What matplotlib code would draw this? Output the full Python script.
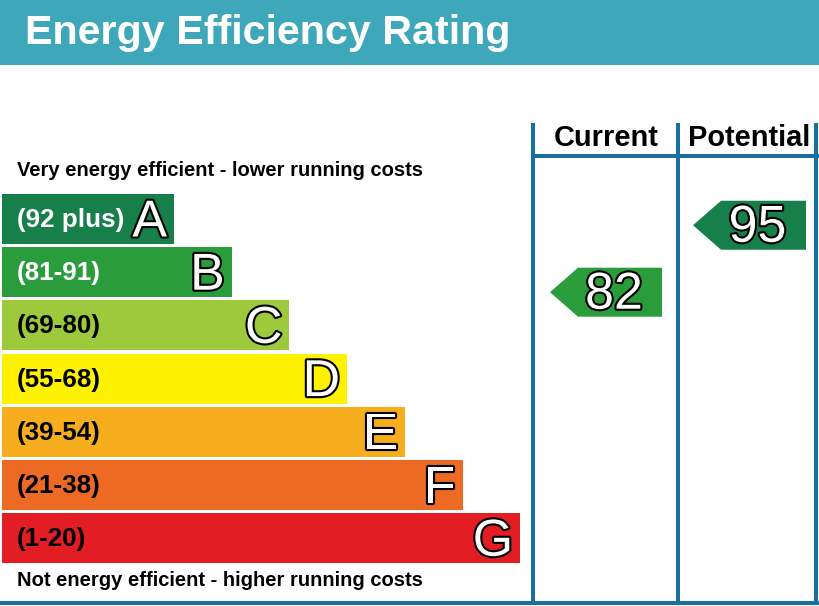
import matplotlib
matplotlib.use("Agg")
import matplotlib.pyplot as plt
from matplotlib.patches import Rectangle, Polygon
import matplotlib.patheffects as pe

# ---- data ----
title = "Energy Efficiency Rating"
letters = ["A", "B", "C", "D", "E", "F", "G"]
ranges = ["(92 plus)", "(81-91)", "(69-80)", "(55-68)", "(39-54)", "(21-38)", "(1-20)"]
band_low = [92, 81, 69, 55, 39, 21, 1]
band_high = [100, 91, 80, 68, 54, 38, 20]
band_colors = ["#17804a", "#2b9c3c", "#9cca3c", "#fff200", "#f6ae1f", "#ec6a24", "#e31d24"]
range_text_colors = ["white", "white", "black", "black", "black", "black", "black"]
top_note = "Very energy efficient - lower running costs"
bottom_note = "Not energy efficient - higher running costs"
columns = ["Current", "Potential"]
current_value = 82
potential_value = 95

header_color = "#3fa7ba"
line_color = "#17709f"

FAM = ["Liberation Sans", "DejaVu Sans"]

W, H = 819, 606
fig = plt.figure(figsize=(W / 100, H / 100), dpi=100)
ax = fig.add_axes([0, 0, 1, 1])
ax.set_xlim(0, W)
ax.set_ylim(H, 0)
ax.axis("off")


def px(p):
    return p * 72 / 100


# header
ax.add_patch(Rectangle((0, 0), W, 65, color=header_color, lw=0))
ax.text(25, 33, title, color="white", fontsize=px(41.3), fontweight="bold",
        family=FAM, va="center", ha="left")

# bands
top0, step, bh = 194, 53.2, 50
x0 = 2
outline = [pe.withStroke(linewidth=3, foreground="black")]
for i, (L, r) in enumerate(zip(letters, ranges)):
    y = top0 + i * step
    right = 174 + i * 57.7
    ax.add_patch(Rectangle((x0, y), right - x0, bh, color=band_colors[i], lw=0))
    ax.text(17, y + bh / 2 + 1, r, color=range_text_colors[i], fontsize=px(26),
            fontweight="bold", family=FAM, va="center", ha="left")
    ax.text(right - 7, y + bh / 2 + 4, L, color="white", fontsize=px(52),
            family=FAM, va="center", ha="right", path_effects=outline)

ax.text(17, 170, top_note, fontsize=px(20.2), fontweight="bold",
        family=FAM, va="center", ha="left")
ax.text(17, 581, bottom_note, fontsize=px(20.2), fontweight="bold",
        family=FAM, va="center", ha="left")

# table lines
lw = px(4)
for xv in (533, 678, 816):
    ax.plot([xv, xv], [123, 604], color=line_color, lw=lw, solid_capstyle="butt")
ax.plot([533, W], [156, 156], color=line_color, lw=lw, solid_capstyle="butt")
ax.plot([0, W], [603, 603], color=line_color, lw=lw, solid_capstyle="butt")

col_centers = [606, 749]
for c, xc in zip(columns, col_centers):
    ax.text(xc, 138, c, fontsize=px(29), fontweight="bold",
            family=FAM, va="center", ha="center")


def band_of(v):
    for i in range(len(letters)):
        if band_low[i] <= v <= band_high[i]:
            return i
    return len(letters) - 1


def arrow(value, xl, xr):
    i = band_of(value)
    ytop = top0 + i * step
    frac = (value - band_low[i]) / (band_high[i] - band_low[i])
    yc = ytop + bh - frac * bh
    h = 49
    tip = 28
    poly = Polygon([(xl, yc), (xl + tip, yc - h / 2), (xr, yc - h / 2),
                    (xr, yc + h / 2), (xl + tip, yc + h / 2)],
                   closed=True, color=band_colors[i], lw=0)
    ax.add_patch(poly)
    ax.text((xl + tip + xr) / 2 - 6, yc + 3, str(value), color="white",
            fontsize=px(52), family=FAM,
            va="center", ha="center", path_effects=outline)


arrow(current_value, 550, 662)
arrow(potential_value, 693, 806)

fig.savefig("out.png", dpi=100)
